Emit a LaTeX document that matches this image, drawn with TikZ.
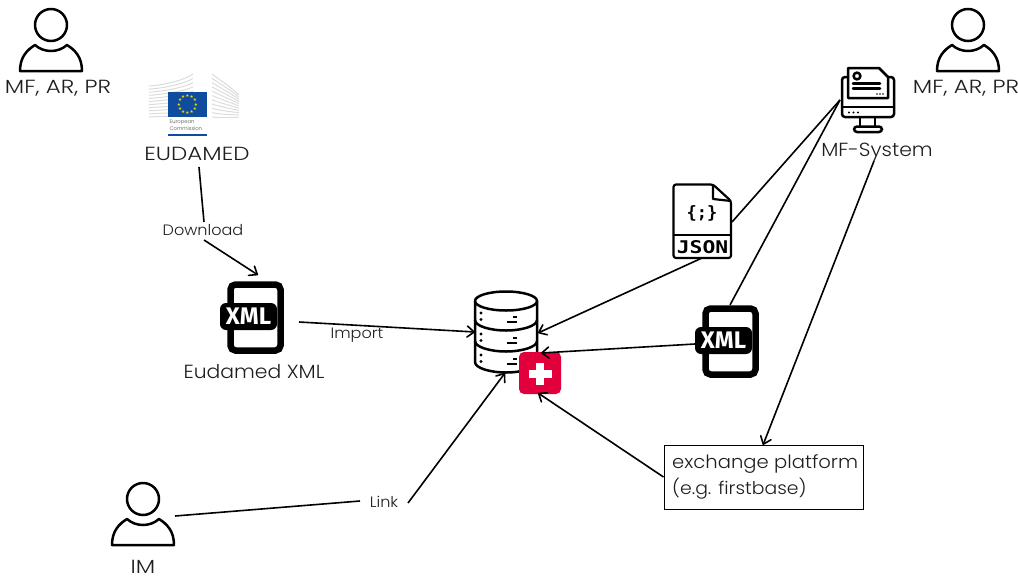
\documentclass[tikz,border=0pt]{standalone}
\usepackage{fontspec}
\setmainfont{Poppins}[UprightFont=* Light]
\newfontfamily\wideA{Poppins}[UprightFont=* Light,FakeStretch=1.21]
\newfontfamily\wideB{Poppins}[UprightFont=* Light,FakeStretch=1.07]
\newfontfamily\monofnt{DejaVu Sans Mono}
\newfontfamily\monowide{DejaVu Sans Mono}[FakeStretch=1.22]
\newfontfamily\xmlfnt{Fira Sans}
\newfontfamily\symfnt{DejaVu Sans}
\usetikzlibrary{arrows.meta}
\definecolor{inkc}{HTML}{1E1E1E}
\definecolor{redc}{HTML}{E2003C}
\definecolor{eublue}{HTML}{104C9E}
\definecolor{euyellow}{HTML}{F2D600}
\definecolor{bldg}{HTML}{DCDCDC}
\tikzset{
  conn/.style={draw=black,line width=1.6pt},
  arr/.style={conn,-{Straight Barb[length=7pt,width=11pt,round]}},
  capslbl/.style={font=\wideA\fontsize{19}{22}\selectfont,text=inkc,inner sep=0pt},
  lbl/.style={font=\wideB\fontsize{19}{22}\selectfont,text=inkc,inner sep=0pt},
  small/.style={font=\wideB\fontsize{15}{17}\selectfont,text=inkc,inner sep=0pt},
  iconline/.style={draw=black,line width=2.5pt,line join=round,line cap=round},
  pics/person/.style={code={
    \draw[iconline] (0,0) circle[radius=16];
    \draw[iconline] (-31,46) .. controls (-31,32) and (-24,25) .. (-16,20)
      .. controls (-7,28) and (7,28) .. (16,20)
      .. controls (24,25) and (31,32) .. (31,46) -- cycle;
  }},
  pics/xmlicon/.style={code={
    \draw[line width=6.5pt,draw=black,rounded corners=5pt] (3.5,3.5) rectangle (53.5,69.5);
    \fill[black,rounded corners=6pt] (-7,22) rectangle (50,49);
    \node[inner sep=0pt,text=white,font=\xmlfnt\bfseries\fontsize{24}{24}\selectfont] at (21.5,35.5) {XML};
  }},
}
\begin{document}
\begin{tikzpicture}[x=1pt,y=-1pt]
\useasboundingbox (0,0) rectangle (1018,576);
% persons
\pic at (51,25) {person};
\pic at (968,25) {person};
\pic at (143,499) {person};
\node[capslbl] (lblA) at (58,88) {MF, AR, PR};
\node[capslbl] (lblB) at (966,88) {MF, AR, PR};
\node[capslbl,anchor=base] (lblIM) at (143,573) {IM};
% EU logo
\foreach \i in {0,...,10}{
  \draw[bldg,line width=1pt] (149,{86+\i*3.1}) .. controls (165,{85+\i*3.1}) and (185,{80+\i*3.6}) .. (193,{74+\i*4.3});
  \draw[bldg,line width=1pt] (212,{74+\i*4.3}) .. controls (220,{80+\i*3.8}) and (232,{88+\i*3}) .. (239,{95+\i*2.2});
}
\fill[white] (149,118) rectangle (240,140);
\fill[eublue] (168,92) rectangle (207,117);
\foreach \a in {0,30,...,330}{
  \node[inner sep=0pt,text=euyellow,font=\symfnt\fontsize{4.6}{4}\selectfont] (star\a) at ({187.5+8.5*cos(\a)},{104.5+8.5*sin(\a)}) {★};
}
\node[anchor=west,inner sep=0pt,text=black!70,font=\fontsize{5.2}{5}\selectfont] (euA) at (169.5,122) {European};
\node[anchor=west,inner sep=0pt,text=black!70,font=\fontsize{5.2}{5}\selectfont] (euB) at (169.5,129) {Commission};
\fill[eublue] (168,134) rectangle (207,135.5);
\node[capslbl] (eud) at (197,153.5) {EUDAMED};
% XML icons
\pic at (227,281) {xmlicon};
\pic at (702,305) {xmlicon};
\node[lbl] (lblXml) at (254,371.5) {Eudamed XML};
% database
\begin{scope}
\draw[iconline] (506,301) ellipse[x radius=31,y radius=9.5];
\draw[iconline] (475,301) -- (475,362) .. controls (475,368) and (490,372.5) .. (506,372.5) .. controls (522,372.5) and (537,368) .. (537,362) -- (537,301);
\draw[iconline] (475,320) .. controls (475,326) and (490,330.5) .. (506,330.5) .. controls (522,330.5) and (537,326) .. (537,320);
\draw[iconline] (475,341) .. controls (475,347) and (490,351.5) .. (506,351.5) .. controls (522,351.5) and (537,347) .. (537,341);
\foreach \y in {0,21,42}{
  \fill (481,{313+\y}) circle[radius=1.6];
  \fill (481,{319.5+\y}) circle[radius=1.6];
  \draw[black,line width=2pt] (507,{322+\y}) -- (517,{322+\y});
  \draw[black,line width=2pt] (513,{317+\y}) -- (517,{317+\y});
}
\end{scope}
\fill[redc,rounded corners=5pt] (519,352) rectangle (561,394);
\fill[white] (536,362.5) rectangle (544,385);
\fill[white] (528.5,369.5) rectangle (551.5,377.5);
% JSON
\draw[black,line width=2.2pt,rounded corners=2.5pt,line join=round] (713,184.5) -- (673.5,184.5) -- (673.5,258) -- (731,258) -- (731,201) -- cycle;
\draw[black,line width=2.2pt,line join=round] (713,184.5) -- (713,199) -- (731,201);
\draw[black,line width=2.2pt] (673.5,235) -- (731,235);
\node[inner sep=0pt,font=\monofnt\bfseries\fontsize{17}{17}\selectfont] (jsonB) at (702,213) {\{;\}};
\node[inner sep=0pt,font=\monowide\bfseries\fontsize{17.5}{18}\selectfont] (jsonT) at (702.5,247) {JSON};
% Computer
\begin{scope}
\draw[iconline,rounded corners=3pt] (848,77) -- (842,77) -- (842,117) -- (894,117) -- (894,77) -- (888,77);
\draw[iconline] (842,107) -- (894,107);
\foreach \x in {849,853.5,858}{\fill (\x,112.5) circle[radius=1.1];}
\draw[iconline] (860,117) -- (860,126);
\draw[iconline] (875,117) -- (875,126);
\draw[iconline,rounded corners=3pt] (854,126.5) rectangle (882,132);
\draw[iconline] (879,68) -- (848,68) -- (848,98) -- (888,98) -- (888,77) -- cycle;
\draw[iconline] (857,76) circle[radius=3.4];
\draw[iconline] (853,83.5) -- (880,83.5);
\draw[iconline] (853,88.5) -- (880,88.5);
\foreach \x in {877,880,883}{\fill (\x,94) circle[radius=.9];}
\end{scope}
\node[lbl] (lblSys) at (877,152.5) {MF-System};
% box
\node[draw=black,line width=1pt,minimum width=199pt,minimum height=64pt,inner sep=0pt] (box) at (763.5,477) {};
\node[lbl,anchor=west,align=left,font=\wideB\fontsize{18.3}{26}\selectfont] (boxtxt) at (672,477) {exchange platform\\{\fontsize{17.6}{26}\selectfont (e.g. firstbase)}};
% labels
\node[small] (dl) at (203,230) {Download};
\node[small] (imp) at (357,335) {Import};
\node[small] (lnk) at (384,501.5) {Link};
% connector ends
\coordinate (eudS) at (199,167);
\coordinate (dlN) at (204,222);
\coordinate (dlS) at (204,240);
\coordinate (xmlInTip) at (258,275);
\coordinate (xmlOut) at (299,322);
\coordinate (dbWest) at (475,332);
\coordinate (jsonOut) at (702,258);
\coordinate (dbEast) at (538,333);
\coordinate (sysW) at (840,100);
\coordinate (jsonIn) at (732,222);
\coordinate (xmlIn) at (730,305);
\coordinate (xmlOutB) at (695,344);
\coordinate (dbEastB) at (541,353);
\coordinate (dbSE) at (538,393);
\coordinate (sysS) at (874,161);
\coordinate (boxN) at (763,445);
\coordinate (imOut) at (175,516);
\coordinate (lnkW) at (360,501);
\coordinate (lnkE) at (408,503);
\coordinate (dbS) at (505,373);
% connectors
\draw[conn] (eudS) -- (dlN);
\draw[arr] (dlS) -- (xmlInTip);
\draw[arr] (xmlOut) -- (dbWest);
\draw[arr] (jsonOut) -- (dbEast);
\draw[conn] (sysW) -- (jsonIn);
\draw[conn] (sysW) -- (xmlIn);
\draw[arr] (xmlOutB) -- (dbEastB);
\draw[arr] (box.west) -- (dbSE);
\draw[arr] (sysS) -- (boxN);
\draw[conn] (imOut) -- (lnkW);
\draw[arr] (lnkE) -- (dbS);
\end{tikzpicture}
\end{document}
